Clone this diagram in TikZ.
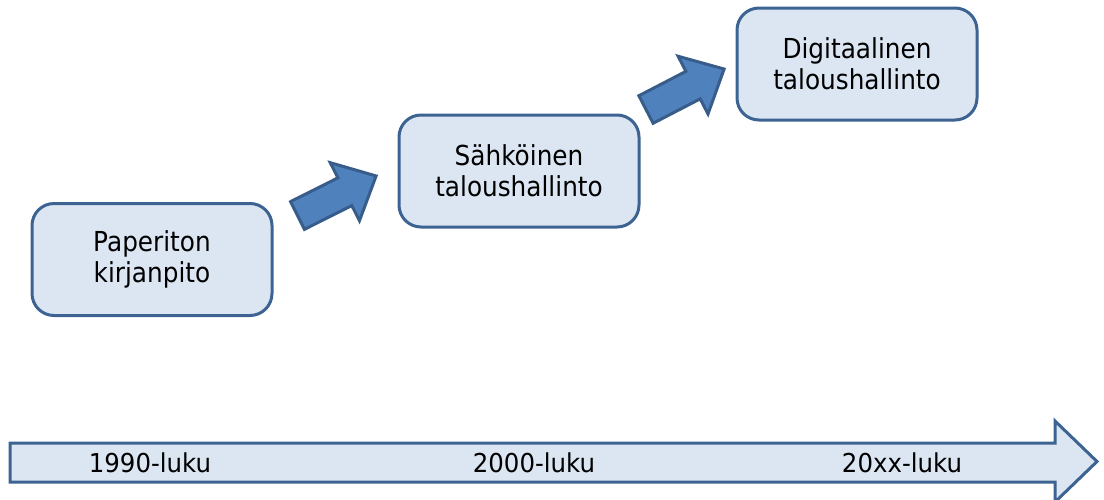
\documentclass[tikz,border=0pt]{standalone}
\usepackage{fontspec}
\setmainfont[FakeStretch=0.9]{DejaVu Sans}
\newfontfamily\yearfont[FakeStretch=0.94]{DejaVu Sans}
\definecolor{boxfill}{HTML}{DCE6F2}
\definecolor{boxline}{HTML}{3C6391}
\definecolor{arrfill}{HTML}{4F81BD}
\definecolor{arrline}{HTML}{385D8A}
\begin{document}
\begin{tikzpicture}[x=1pt,y=-1pt,
  stage/.style={draw=boxline, line width=3pt, fill=boxfill, rounded corners=22pt,
    minimum width=240pt, minimum height=112pt, align=center, inner sep=0pt,
    font=\fontsize{27.5}{31}\selectfont},
  blockarrow/.style={draw=arrline, line width=3pt, fill=arrfill, line join=miter},
  timeline/.style={draw=boxline, line width=3pt, fill=boxfill, line join=miter},
  year/.style={font=\yearfont\fontsize{26}{30}\selectfont, inner sep=0pt}]
\useasboundingbox (0,0) rectangle (1104,499);
\node[stage] (b1) at (152,259.5) {Paperiton\\kirjanpito};
\node[stage] (b2) at (519,171) {Sähköinen\\taloushallinto};
\node[stage] (b3) at (857,64) {Digitaalinen\\taloushallinto};
% block arrows
\begin{scope}[shift={(297.5,215.5)}, rotate=26.7]
  \draw[blockarrow] (0,-15.5) -- (53,-15.5) -- (53,-32.5) -- (88,0) -- (53,32.5) -- (53,15.5) -- (0,15.5) -- cycle;
\end{scope}
\begin{scope}[shift={(646,109.5)}, rotate=27.4]
  \draw[blockarrow] (0,-15.5) -- (53,-15.5) -- (53,-32.5) -- (88,0) -- (53,32.5) -- (53,15.5) -- (0,15.5) -- cycle;
\end{scope}
% timeline arrow
\draw[timeline] (10,443) -- (1055,443) -- (1055,421) -- (1097,461.5) -- (1055,502) -- (1055,482) -- (10,482) -- cycle;
\node[year] (t1) at (150,463) {1990-luku};
\node[year] (t2) at (534,463) {2000-luku};
\node[year] (t3) at (902,463) {20xx-luku};
\end{tikzpicture}
\end{document}
